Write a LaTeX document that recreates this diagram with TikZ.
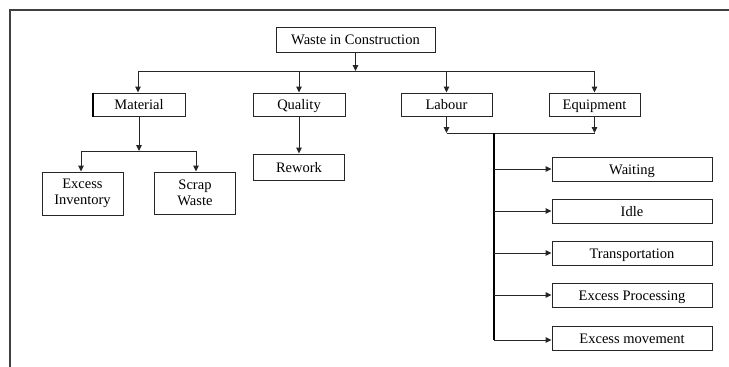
\documentclass[tikz,border=0pt]{standalone}
\usepackage{fontspec}
\setmainfont{Liberation Serif}
\usetikzlibrary{arrows.meta}
\begin{document}
\begin{tikzpicture}[x=1pt,y=-1pt,
  box/.style={draw=black!85,line width=1pt,fill=white,inner sep=0pt,align=center,font=\fontsize{14.5}{16.5}\selectfont},
  one/.style={text height=12pt,text depth=2pt},
  line/.style={draw=black!85,line width=1pt},
  arr/.style={line,-{Triangle[length=6pt,width=5.5pt]}},
  thick line/.style={draw=black,line width=2pt}]
\useasboundingbox (0,0) rectangle (729,367);
\fill[white] (0,0) rectangle (729,367);
% frame
\draw[draw=black!75,line width=1.4pt] (10,367) -- (10,10) -- (729,10);
% nodes
\node[box,one,minimum width=159pt,minimum height=25pt] (waste) at (355.5,39.5) {Waste in Construction};
\node[box,one,minimum width=92pt,minimum height=23pt] (material) at (139,104.5) {Material};
\node[box,one,minimum width=92pt,minimum height=23pt] (quality) at (299,104.5) {Quality};
\node[box,one,minimum width=91pt,minimum height=23pt] (labour) at (446.5,104.5) {Labour};
\node[box,one,minimum width=91pt,minimum height=23pt] (equip) at (594.5,104.5) {Equipment};
\node[box,minimum width=81pt,minimum height=43pt] (exinv) at (82.5,193.5) {Excess\\Inventory};
\node[box,minimum width=81pt,minimum height=42pt] (scrap) at (195,193) {Scrap\\Waste};
\node[box,one,minimum width=91pt,minimum height=26pt] (rework) at (299,167) {Rework};
\node[box,one,minimum width=160pt,minimum height=24pt] (waiting) at (632,169) {Waiting};
\node[box,one,minimum width=160pt,minimum height=24pt] (idle) at (632,211) {Idle};
\node[box,one,minimum width=160pt,minimum height=24pt] (transp) at (632,253) {Transportation};
\node[box,one,minimum width=160pt,minimum height=24pt] (exproc) at (632,295) {Excess Processing};
\node[box,one,minimum width=160pt,minimum height=24pt] (exmove) at (632,338) {Excess movement};
% thicker left edge of Material
\draw[draw=black,line width=2pt] (material.north west) -- (material.south west);
% coordinates
\coordinate (bar1) at (355.5,71);
\coordinate (bar1l) at (138,71);
\coordinate (bar1r) at (594.5,71);
\coordinate (bar2) at (139,151);
\coordinate (bar2l) at (81,151);
\coordinate (bar2r) at (196,151);
\coordinate (bar3l) at (446.5,133);
\coordinate (bar3r) at (594.5,133);
\coordinate (vtop) at (494,133);
\coordinate (vbot) at (494,340);
% top level
\draw[arr] (waste.south) -- (bar1);
\draw[line] (bar1l) -- (bar1r);
\draw[arr] (bar1l) -- (material.north -| bar1l);
\draw[arr] (quality.north |- bar1) -- (quality.north);
\draw[arr] (labour.north |- bar1) -- (labour.north);
\draw[arr] (bar1r) -- (equip.north);
% material
\draw[arr] (material.south) -- (bar2);
\draw[line] (bar2l) -- (bar2r);
\draw[arr] (bar2l) -- (exinv.north -| bar2l);
\draw[arr] (bar2r) -- (scrap.north -| bar2r);
% quality
\draw[arr] (quality.south) -- (rework.north);
% labour and equipment
\draw[arr] (labour.south) -- (bar3l);
\draw[arr] (equip.south) -- (bar3r);
\draw[line] (bar3l) -- (bar3r);
\draw[thick line] (vtop) -- (vbot);
\draw[arr] (vtop |- waiting.west) -- (waiting.west);
\draw[arr] (vtop |- idle.west) -- (idle.west);
\draw[arr] (vtop |- transp.west) -- (transp.west);
\draw[arr] (vtop |- exproc.west) -- (exproc.west);
\draw[arr] (vbot) -- (exmove.west |- vbot);
\end{tikzpicture}
\end{document}
